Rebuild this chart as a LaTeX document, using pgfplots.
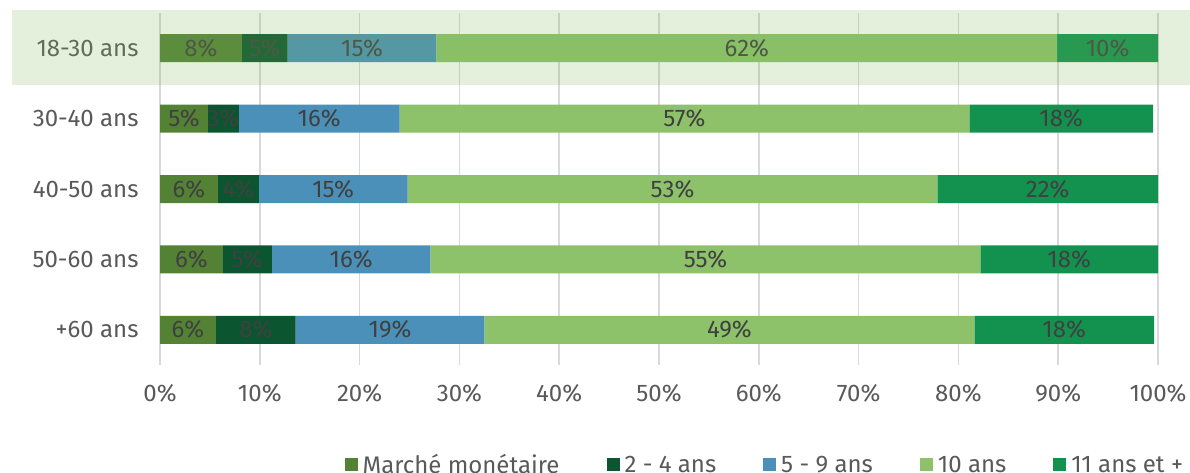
\documentclass[border=0pt]{standalone}
\usepackage{pgfplots}
\pgfplotsset{compat=1.18}
\usepackage{pgfplotstable}
\usepackage{fontspec}
\setmainfont{Fira Sans}
\definecolor{cA}{HTML}{548235}
\definecolor{cB}{HTML}{0B5530}
\definecolor{cC}{HTML}{4A90B8}
\definecolor{cD}{HTML}{8DC26A}
\definecolor{cE}{HTML}{12914F}
\definecolor{txt}{HTML}{595959}
\definecolor{lbl}{HTML}{404040}
\definecolor{gridc}{HTML}{D9D9D9}
\definecolor{hl}{RGB}{126,183,88}

% rows: 0 = 18-30, 1 = 30-40, 2 = 40-50, 3 = 50-60, 4 = +60
\pgfplotstableread{
row v
0 8.2
1 4.8
2 5.8
3 6.3
4 5.6
}\tMM
\pgfplotstableread{
row v
0 4.6
1 3.1
2 4.1
3 4.9
4 8.0
}\tB
\pgfplotstableread{
row v
0 14.9
1 16.1
2 14.9
3 15.9
4 18.9
}\tC
\pgfplotstableread{
row v
0 62.2
1 57.1
2 53.1
3 55.1
4 49.1
}\tD
\pgfplotstableread{
row v
0 10.1
1 18.4
2 22.1
3 17.8
4 18.0
}\tE

\begin{document}
\begin{tikzpicture}
\begin{axis}[
  at={(160pt,-365pt)}, anchor=south west,
  width=998pt, height=352pt, scale only axis,
  xbar stacked, bar width=28pt,
  xmin=0, xmax=100, ymin=-0.5, ymax=4.5, y dir=reverse,
  ytick={0,1,2,3,4},
  yticklabels={18-30 ans,30-40 ans,40-50 ans,50-60 ans,+60 ans},
  xtick={0,10,...,100},
  xticklabel={\pgfmathprintnumber{\tick}\%},
  /pgf/number format/assume math mode=true,
  axis line style={draw=none},
  major tick length=0pt,
  xmajorgrids, major grid style={gridc, line width=1.5pt},
  tick label style={font=\fontsize{24}{28}\selectfont, text=txt},
  yticklabel style={xshift=-18pt},
  xticklabel style={yshift=-16pt},
  nodes near coords={\pgfmathprintnumber[fixed,precision=0]{\pgfplotspointmeta}\%},
  every node near coord/.append style={anchor=center, font=\fontsize{24}{28}\selectfont, text=lbl},
  legend style={at={(axis description cs:0.606,-0.284)}, anchor=center, draw=none, fill=none,
    legend columns=5, font=\fontsize{24}{28}\selectfont, text=txt, inner sep=0pt,
    column sep=3pt,
    /tikz/every even column/.append style={column sep=45pt}},
  legend image code/.code={\fill[#1] (0pt,-6.5pt) rectangle (13pt,6.5pt);},
]
\addplot[fill=cA, draw=none] table[x=v, y=row, meta=v] {\tMM};
\addplot[fill=cB, draw=none] table[x=v, y=row, meta=v] {\tB};
\addplot[fill=cC, draw=none] table[x=v, y=row, meta=v] {\tC};
\addplot[fill=cD, draw=none] table[x=v, y=row, meta=v] {\tD};
\addplot[fill=cE, draw=none] table[x=v, y=row, meta=v] {\tE};
\legend{Marché monétaire, 2 - 4 ans, 5 - 9 ans, 10 ans, 11 ans et +}
\end{axis}
\fill[hl, fill opacity=0.21] (12pt,-10pt) rectangle (1190pt,-85pt);
\pgfresetboundingbox
\path[use as bounding box] (0,0) rectangle (1190pt,-473pt);
\end{tikzpicture}
\end{document}
